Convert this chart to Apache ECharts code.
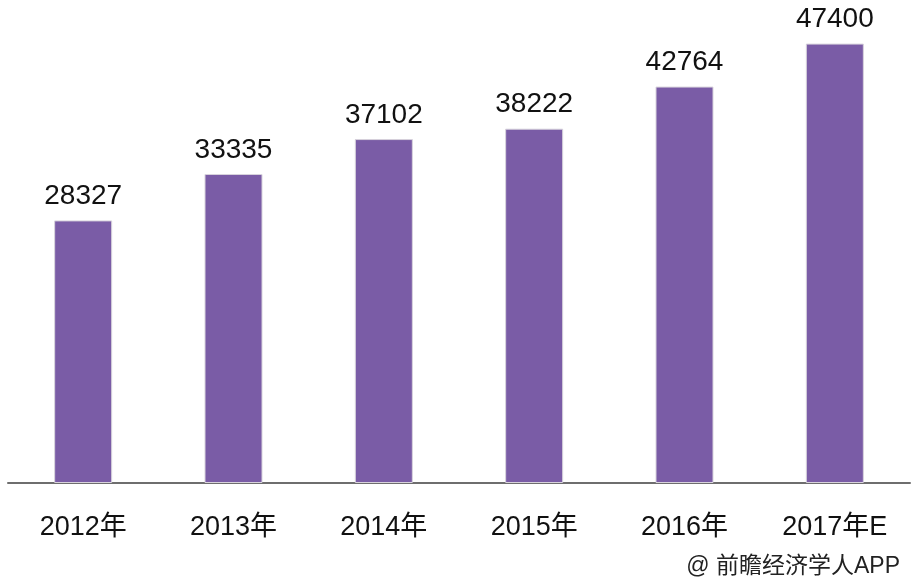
<!DOCTYPE html>
<html><head><meta charset="utf-8">
<script src="https://cdn.jsdelivr.net/npm/echarts@6/dist/echarts.min.js"></script>
<style>html,body{margin:0;padding:0;background:#fff}#c{width:914px;height:588px}</style>
</head><body><div id="c"></div>
<script>
const categories = ['2012年','2013年','2014年','2015年','2016年','2017年E'];
const values = [28327, 33335, 37102, 38222, 42764, 47400];
const sourceText = '@ 前瞻经济学人APP';
const FONT = "'Liberation Sans', 'Noto Sans CJK SC', sans-serif";
const chart = echarts.init(document.getElementById('c'));
chart.setOption({
  animation: false,
  backgroundColor: '#ffffff',
  grid: {left: 8, right: 4, top: 19.5, bottom: 105},
  xAxis: {
    type: 'category', data: categories,
    axisLine: {show: true, lineStyle: {color: '#6e6e6e', width: 2}},
    axisTick: {show: false},
    axisLabel: {color: '#111', fontSize: 27, fontFamily: FONT, margin: 31}
  },
  yAxis: {type: 'value', min: 0, max: 50000, show: false, splitLine: {show: false}},
  series: [{
    type: 'bar', data: values, barWidth: 58,
    itemStyle: {color: '#7a5ca6', borderColor: '#d8d3dc', borderWidth: 1},
    label: {show: true, position: 'top', distance: 10, color: '#111', fontSize: 28, fontFamily: FONT}
  }],
  graphic: [{
    type: 'text', right: 14, top: 555,
    style: {text: sourceText, fill: '#222', font: "23px 'Liberation Sans', 'Noto Sans CJK SC', sans-serif"}
  }]
});
</script></body></html>
